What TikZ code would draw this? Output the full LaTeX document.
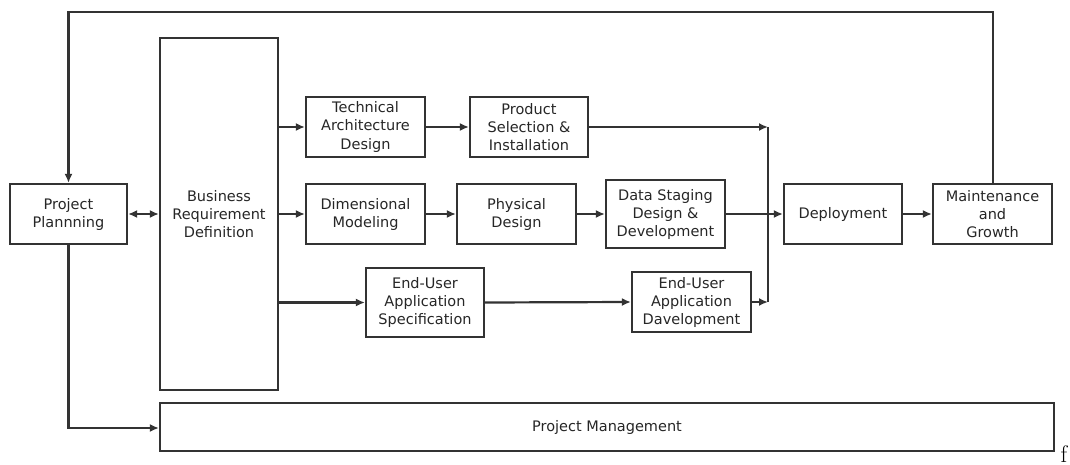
\documentclass[tikz,border=0pt]{standalone}
\usepackage{fontspec}
\setmainfont{DejaVu Sans}
\newfontfamily\serifff{Latin Modern Roman}
\usetikzlibrary{arrows.meta}
\begin{document}
\begin{tikzpicture}[x=1pt,y=-1pt,
  line width=2.2pt, draw=black!80,
  box/.style={draw=black!80, line width=2.2pt, rectangle, align=center, inner sep=0pt,
    font=\fontsize{14.5}{18}\selectfont, text=black!85},
  lbl/.style={align=center, inner sep=0pt, font=\fontsize{14.5}{18}\selectfont, text=black!85},
  arr/.style={draw=black!80, line width=2.2pt, -{Latex[length=9pt,width=8pt]}},
  darr/.style={draw=black!80, line width=2.2pt, {Latex[length=9pt,width=8pt]}-{Latex[length=9pt,width=8pt]}}]
\useasboundingbox (0,0) rectangle (1070,465);
% nodes
\node[box, minimum width=117pt, minimum height=60pt] (pp) at (68.5,214) {Project\\Plannning};
\node[box, minimum width=118pt, minimum height=352pt] (brd) at (219,214) {};
\node[lbl] (brdt) at (219,214) {Business\\Requirement\\Definition};
\node[box, minimum width=119pt, minimum height=60pt] (tad) at (365.5,127) {Technical\\Architecture\\Design};
\node[box, minimum width=118pt, minimum height=60pt] (psi) at (529,127) {Product\\Selection \&\\Installation};
\node[box, minimum width=119pt, minimum height=60pt] (dm) at (365.5,214) {Dimensional\\Modeling};
\node[box, minimum width=119pt, minimum height=60pt] (pd) at (516.5,214) {Physical\\Design};
\node[box, minimum width=119pt, minimum height=68pt] (ds) at (665.5,214) {Data Staging\\Design \&\\Development};
\node[box, minimum width=118pt, minimum height=69pt] (eus) at (425,302.5) {End-User\\Application\\Specification};
\node[box, minimum width=119pt, minimum height=60pt] (eud) at (691.5,302) {End-User\\Application\\Davelopment};
\node[box, minimum width=118pt, minimum height=60pt] (dep) at (843,214) {Deployment};
\node[box, minimum width=119pt, minimum height=60pt] (mg) at (992.5,214) {Maintenance\\and\\Growth};
\node[box, minimum width=894pt, minimum height=48pt] (pm) at (607,427) {Project Management};
\node[font=\serifff\fontsize{24}{24}\selectfont, text=black, inner sep=0pt, anchor=base] (f) at (1064,462) {f};
% junction coordinates
\coordinate (jt) at (768,127);
\coordinate (jb) at (768,302);
\coordinate (top) at (68.5,12);
\coordinate (topr) at (993,12);
\coordinate (bl) at (68.5,428);
% connectors
\draw[arr] (mg.north -| topr) -- (topr) -- (top) -- (pp.north);
\draw[darr] (pp.east) -- (brd.west |- pp.east);
\draw[arr] (pp.south) -- (bl) -- (bl -| pm.west);
\draw[arr] (brd.east |- tad.west) -- (tad.west);
\draw[arr] (brd.east |- dm.west) -- (dm.west);
\draw[arr] (brd.east |- eus.west) -- (eus.west);
\draw[arr] (tad.east) -- (psi.west);
\draw[arr] (psi.east) -- (jt);
\draw (jt) -- (jb);
\draw[arr] (dm.east) -- (pd.west);
\draw[arr] (pd.east) -- (ds.west);
\draw[arr] (ds.east) -- (dep.west);
\draw[arr] (eus.east) -- (eud.west);
\draw[arr] (eud.east) -- (jb);
\draw[arr] (dep.east) -- (mg.west);
\end{tikzpicture}
\end{document}
